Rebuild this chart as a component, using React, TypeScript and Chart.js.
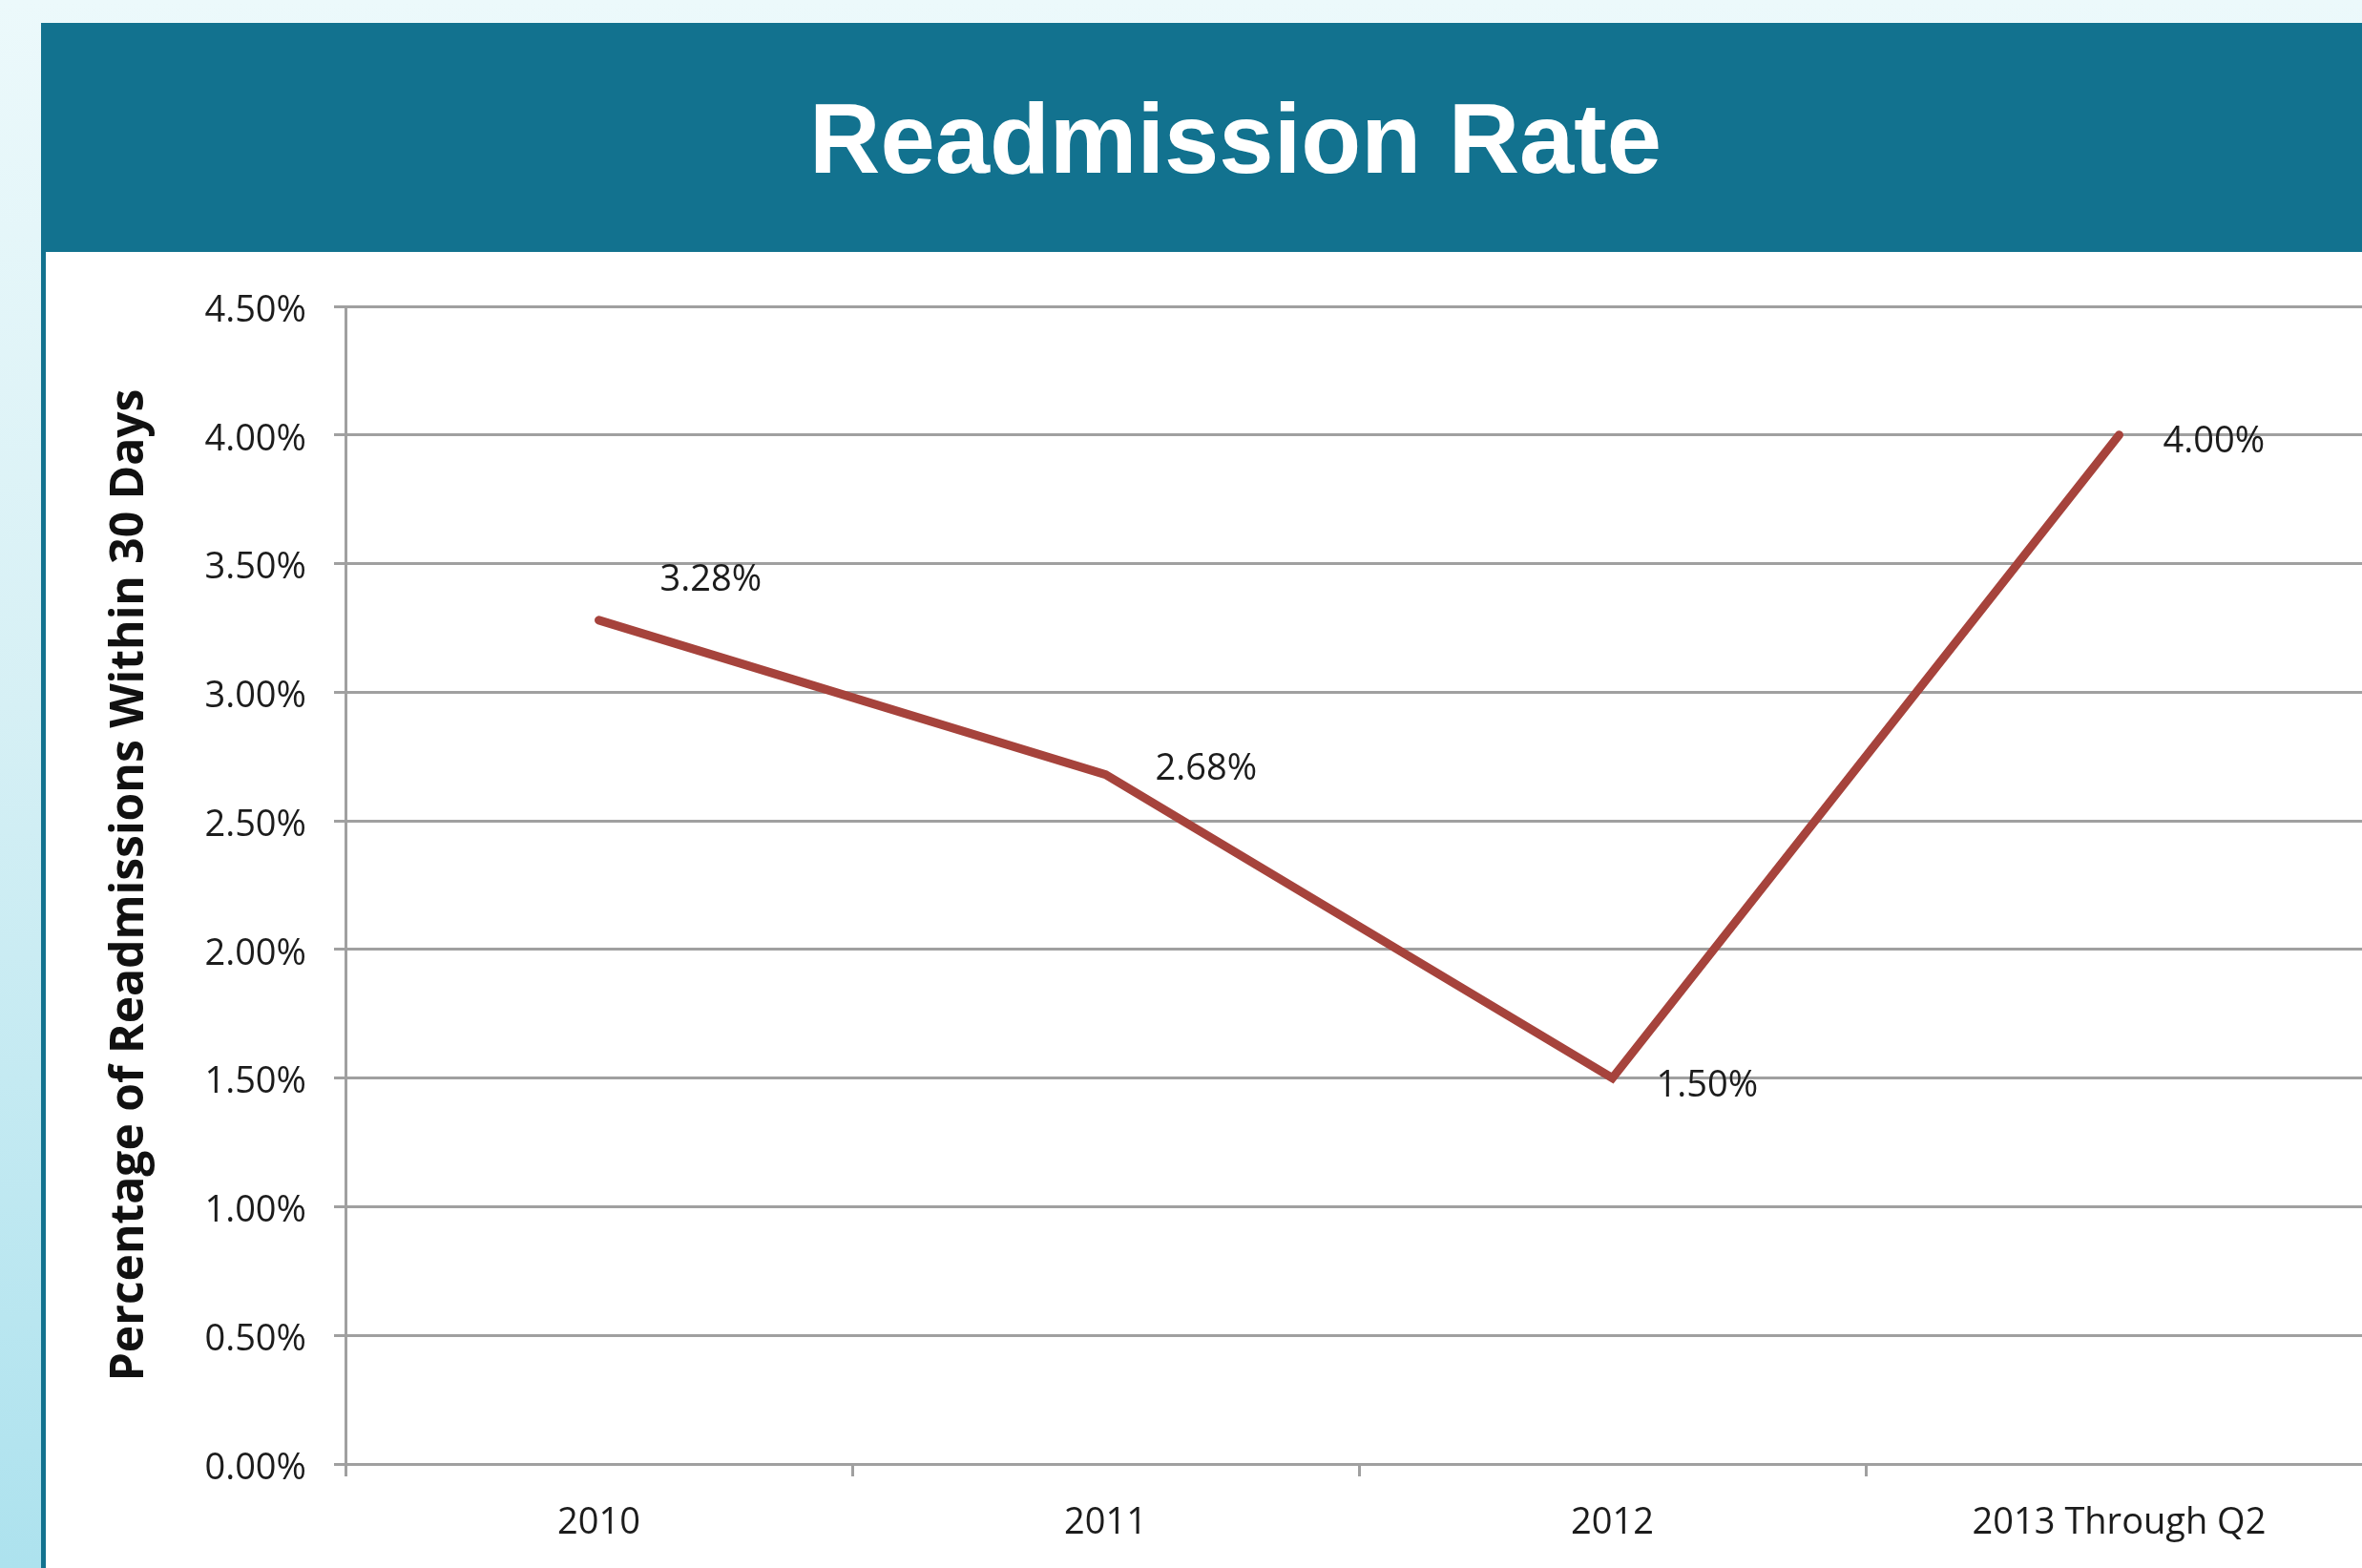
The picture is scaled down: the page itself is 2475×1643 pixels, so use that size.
import React, { useEffect, useRef } from "react";
import { Chart, registerables } from "chart.js";

Chart.register(...registerables);

const categories: string[] = ["2010", "2011", "2012", "2013 Through Q2"];
const rates: number[] = [3.28, 2.68, 1.5, 4.0];
const yMin = 0;
const yMax = 4.5;
const yStep = 0.5;
const chartTitle = "Readmission Rate";
const yAxisTitle = "Percentage of Readmissions Within 30 Days";

const GRID = "#a0a0a0";
const TEXT = "#1c1c1c";
const LINE = "#a6433c";
const TEAL = "#12728f";
const FONT = "'Open Sans', 'DejaVu Sans', sans-serif";

const fmtPct = (v: number) => v.toFixed(2) + "%";

const pointLabelPlugin = {
  id: "pointLabels",
  afterDatasetsDraw(chart: any, _args: any, opts: any) {
    const meta = chart.getDatasetMeta(0);
    const ctx = chart.ctx;
    ctx.save();
    ctx.font = `${opts.size}px ${opts.family}`;
    ctx.fillStyle = opts.color;
    ctx.textAlign = "left";
    ctx.textBaseline = "alphabetic";
    meta.data.forEach((pt: any, i: number) => {
      const off = opts.offsets[i] || [50, 0];
      ctx.fillText(fmtPct(rates[i]), pt.x + off[0], pt.y + off[1]);
    });
    ctx.restore();
  },
};

export default function App() {
  const canvasRef = useRef<HTMLCanvasElement | null>(null);

  useEffect(() => {
    const canvas = canvasRef.current;
    if (!canvas) return;
    const chart = new Chart(canvas, {
      type: "line",
      data: {
        labels: categories,
        datasets: [
          {
            data: rates,
            borderColor: LINE,
            backgroundColor: LINE,
            borderWidth: 9,
            pointRadius: 0,
            pointHoverRadius: 0,
            tension: 0,
            fill: false,
            borderCapStyle: "round",
            borderJoinStyle: "miter",
          },
        ],
      },
      options: {
        responsive: false,
        animation: false,
        devicePixelRatio: 1,
        layout: { padding: { top: 57, left: 0, right: 0, bottom: 0 } },
        plugins: {
          legend: { display: false },
          tooltip: { enabled: false },
          // @ts-ignore
          pointLabels: {
            size: 38,
            family: FONT,
            color: TEXT,
            offsets: [
              [64, -31],
              [52, 5],
              [46, 19],
              [46, 18],
            ],
          },
        },
        scales: {
          x: {
            type: "category",
            offset: true,
            grid: {
              offset: true,
              drawOnChartArea: false,
              drawTicks: true,
              tickLength: 13,
              color: GRID,
              lineWidth: 3,
            },
            border: { display: true, color: GRID, width: 3 },
            ticks: {
              font: { family: FONT, size: 38 },
              color: TEXT,
              padding: 26,
              maxRotation: 0,
              autoSkip: false,
            },
            afterFit: (s: any) => {
              s.height = 109;
            },
          },
          y: {
            min: yMin,
            max: yMax,
            ticks: {
              stepSize: yStep,
              callback: (v: any) => fmtPct(Number(v)),
              font: { family: FONT, size: 38 },
              color: TEXT,
              padding: 29,
              labelOffset: 5,
            },
            grid: {
              color: GRID,
              lineWidth: 3,
              drawTicks: true,
              tickLength: 12,
            },
            border: { display: true, color: GRID, width: 3 },
            title: {
              display: true,
              text: yAxisTitle,
              font: { family: FONT, size: 48, weight: "bold" },
              color: "#111111",
              padding: { top: 60, bottom: 0 },
            },
            afterFit: (s: any) => {
              s.width = 314;
            },
          },
        },
      },
      plugins: [pointLabelPlugin],
    } as any);
    return () => chart.destroy();
  }, []);

  return (
    <div
      style={{
        position: "fixed",
        left: 0,
        top: 0,
        width: 2475,
        height: 1643,
        overflow: "hidden",
        background: "linear-gradient(180deg, #ecf9fb 0%, #d6f0f5 45%, #ade2ee 100%)",
      }}
    >
      <div
        style={{
          position: "absolute",
          left: 43,
          top: 24,
          width: 2475 - 43,
          height: 240,
          background: TEAL,
        }}
      />
      <div
        style={{
          position: "absolute",
          left: 848,
          top: 94,
          color: "#ffffff",
          fontFamily: "'Liberation Sans', Arial, sans-serif",
          fontWeight: "bold",
          fontSize: 103,
          lineHeight: "103px",
          whiteSpace: "nowrap",
        }}
      >
        {chartTitle}
      </div>
      <div
        style={{
          position: "absolute",
          left: 43,
          top: 264,
          width: 2475 - 43,
          height: 1643 - 264,
          background: "#ffffff",
          borderLeft: `5px solid ${TEAL}`,
          boxSizing: "border-box",
        }}
      />
      <canvas
        ref={canvasRef}
        width={2438}
        height={1379}
        style={{ position: "absolute", left: 48, top: 264, width: 2438, height: 1379 }}
      />
    </div>
  );
}
